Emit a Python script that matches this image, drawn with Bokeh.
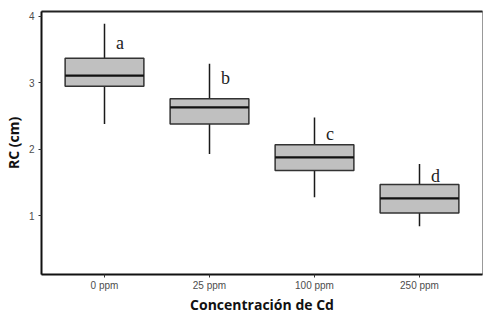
from bokeh.plotting import figure
from bokeh.models import ColumnDataSource, FactorRange, FixedTicker, LinearAxis, Range1d
from bokeh.transform import dodge
from bokeh.core.properties import value
from bokeh.embed import file_html
from bokeh.resources import INLINE

categories = ["0 ppm", "25 ppm", "100 ppm", "250 ppm"]
whisker_low = [2.38, 1.93, 1.28, 0.84]
q1 = [2.95, 2.38, 1.68, 1.04]
median = [3.11, 2.63, 1.88, 1.26]
q3 = [3.37, 2.76, 2.07, 1.47]
whisker_high = [3.89, 3.29, 2.48, 1.78]
letters = ["a", "b", "c", "d"]
letter_y = [3.60, 3.08, 2.23, 1.60]
y_ticks = [1, 2, 3, 4]

src = ColumnDataSource(dict(cat=categories, lo=whisker_low, q1=q1, med=median,
                            q3=q3, hi=whisker_high, lab=letters, ly=letter_y))

p = figure(width=483, height=316, output_backend="svg", toolbar_location=None,
           x_range=FactorRange(*categories, range_padding=0.05),
           y_range=Range1d(0.115, 4.075),
           min_border_left=41, min_border_right=1, min_border_top=11, min_border_bottom=40)

p.background_fill_color = "white"
p.border_fill_color = "white"
p.outline_line_color = "#999999"
p.outline_line_width = 1
p.xgrid.visible = False
p.ygrid.visible = False

# whiskers
p.segment(x0="cat", y0="lo", x1="cat", y1="hi", source=src, line_color="#1a1a1a", line_width=1.5)
# boxes
p.vbar(x="cat", top="q3", bottom="q1", width=0.75, source=src,
       fill_color="#c0c0c0", line_color="#333333", line_width=1.5)
# median
p.segment(x0=dodge("cat", -0.375, range=p.x_range), y0="med",
          x1=dodge("cat", 0.375, range=p.x_range), y1="med",
          source=src, line_color="#111111", line_width=2.2)
# letters
p.text(x=dodge("cat", 0.11, range=p.x_range), y="ly", text="lab", source=src,
       text_font=value("Liberation Serif"), text_font_size="18px",
       text_color="#222222", text_align="left", text_baseline="alphabetic")

for ax in (p.xaxis[0], p.yaxis[0]):
    ax.axis_line_color = "#111111"
    ax.axis_line_width = 2
    ax.major_tick_line_color = "#333333"
    ax.major_tick_out = 3
    ax.major_tick_in = 0
    ax.minor_tick_line_color = None
    ax.major_label_text_font = "Liberation Sans"
    ax.major_label_text_font_size = "10px"
    ax.major_label_text_color = "#4d4d4d"
    ax.axis_label_text_font = "Open Sans"
    ax.axis_label_text_font_style = "bold"
    ax.axis_label_text_font_size = "14px"
    ax.axis_label_text_color = "#111111"

p.yaxis.ticker = FixedTicker(ticks=y_ticks)
p.yaxis.axis_label = "RC (cm)"
p.yaxis.major_label_standoff = 4
p.yaxis.axis_label_standoff = 3
p.xaxis.axis_label = "Concentración de Cd"
p.xaxis.major_label_standoff = 2
p.xaxis.axis_label_standoff = 1

top = LinearAxis(ticker=FixedTicker(ticks=[]), major_tick_out=0, major_tick_in=0,
                 major_label_text_font_size="0px", major_label_standoff=0,
                 axis_line_color="#222222", axis_line_width=2, minor_tick_line_color=None)
p.add_layout(top, "above")

open("out.html", "w").write(file_html(p, INLINE))
